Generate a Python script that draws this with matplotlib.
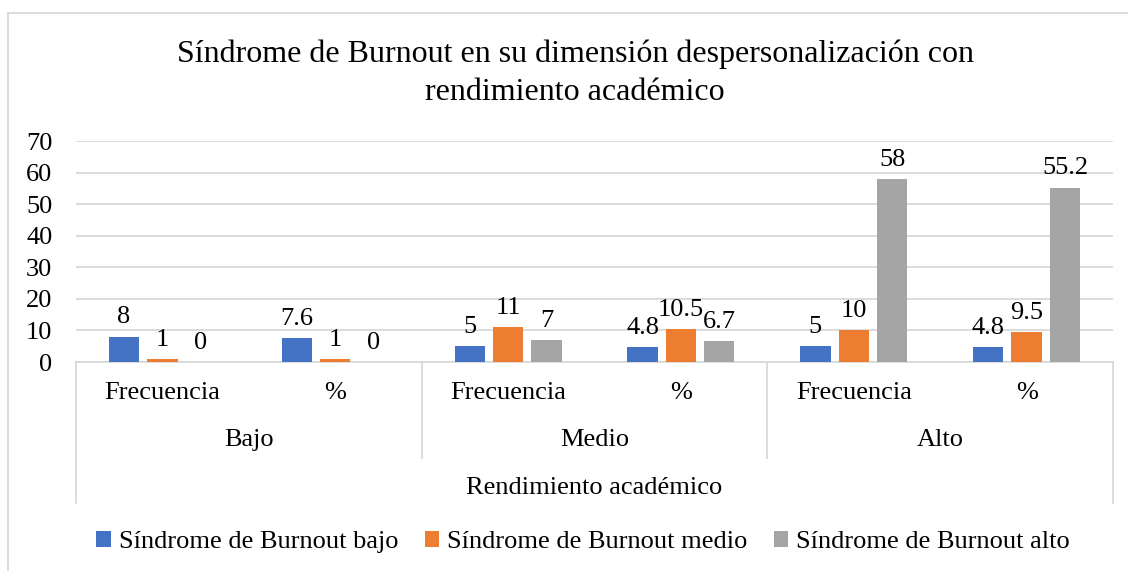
import numpy as np
import matplotlib
matplotlib.use("Agg")
import matplotlib.pyplot as plt
from matplotlib.lines import Line2D
import matplotlib.transforms as mtransforms

plt.rcParams['font.family'] = ['Liberation Serif', 'DejaVu Serif']

# datos
grupos = ['Bajo', 'Medio', 'Alto']
medidas = ['Frecuencia', '%']
series = ['Síndrome de Burnout bajo', 'Síndrome de Burnout medio', 'Síndrome de Burnout alto']
bajo = [8, 7.6, 5, 4.8, 5, 4.8]
medio = [1, 1, 11, 10.5, 10, 9.5]
alto = [0, 0, 7, 6.7, 58, 55.2]
colores = ['#4472C4', '#ED7D31', '#A5A5A5']

fig = plt.figure(figsize=(11.28, 5.71), dpi=100)
ax = fig.add_axes([0.0674, 0.366, 0.9193, 0.387])

x = np.arange(len(bajo))
ancho = 0.175
desp = 0.222
fs = 19

for k, (vals, col, nom) in enumerate(zip([bajo, medio, alto], colores, series)):
    xs = x + (k - 1) * desp
    ax.bar(xs, vals, width=ancho, color=col, label=nom, zorder=3)
    for xi, v in zip(xs, vals):
        ax.annotate(f"{v:g}", (xi, v), xytext=(0, 6), textcoords='offset points',
                    ha='center', va='bottom', fontsize=fs)

ax.set_xlim(-0.5, len(bajo) - 0.5)
ax.set_ylim(0, 70)
ax.set_yticks(range(0, 71, 10))
ax.tick_params(axis='y', labelsize=fs, length=0, pad=17)
ax.set_xticks([])
ax.grid(axis='y', color='#d9d9d9', linewidth=1.3, zorder=0)
for s in ['top', 'right', 'left']:
    ax.spines[s].set_visible(False)
ax.spines['bottom'].set_color('#d9d9d9')
ax.spines['bottom'].set_linewidth(1.3)

# etiquetas jerárquicas
trans = mtransforms.blended_transform_factory(ax.transData, ax.transAxes)
for i in x:
    ax.text(i, -0.14, medidas[i % 2], transform=trans, ha='center', va='center', fontsize=fs)
for j, g in enumerate(grupos):
    ax.text(2 * j + 0.5, -0.353, g, transform=trans, ha='center', va='center', fontsize=fs)
ax.text(2.5, -0.57, 'Rendimiento académico', transform=trans, ha='center', va='center', fontsize=fs)

for xb, yb in [(-0.5, -0.638), (1.5, -0.434), (3.5, -0.434), (5.5, -0.638)]:
    ax.add_line(Line2D([xb, xb], [0, yb], transform=trans, color='#d9d9d9',
                       linewidth=1.3, clip_on=False))

fig.suptitle('Síndrome de Burnout en su dimensión despersonalización con\nrendimiento académico',
             x=0.510, y=0.93, fontsize=23, linespacing=1.4)

fig.legend(loc='center', bbox_to_anchor=(0.517, 0.051), ncol=3, frameon=False,
           fontsize=fs, handlelength=0.55, handleheight=0.55, handletextpad=0.3,
           columnspacing=1.0)

# borde del gráfico
fig.add_artist(Line2D([8 / 1128, 8 / 1128], [0, 1 - 13 / 571], transform=fig.transFigure,
                      color='#d9d9d9', linewidth=1.3))
fig.add_artist(Line2D([8 / 1128, 1], [1 - 13 / 571, 1 - 13 / 571], transform=fig.transFigure,
                      color='#d9d9d9', linewidth=1.3))

fig.savefig('out.png', dpi=100)
